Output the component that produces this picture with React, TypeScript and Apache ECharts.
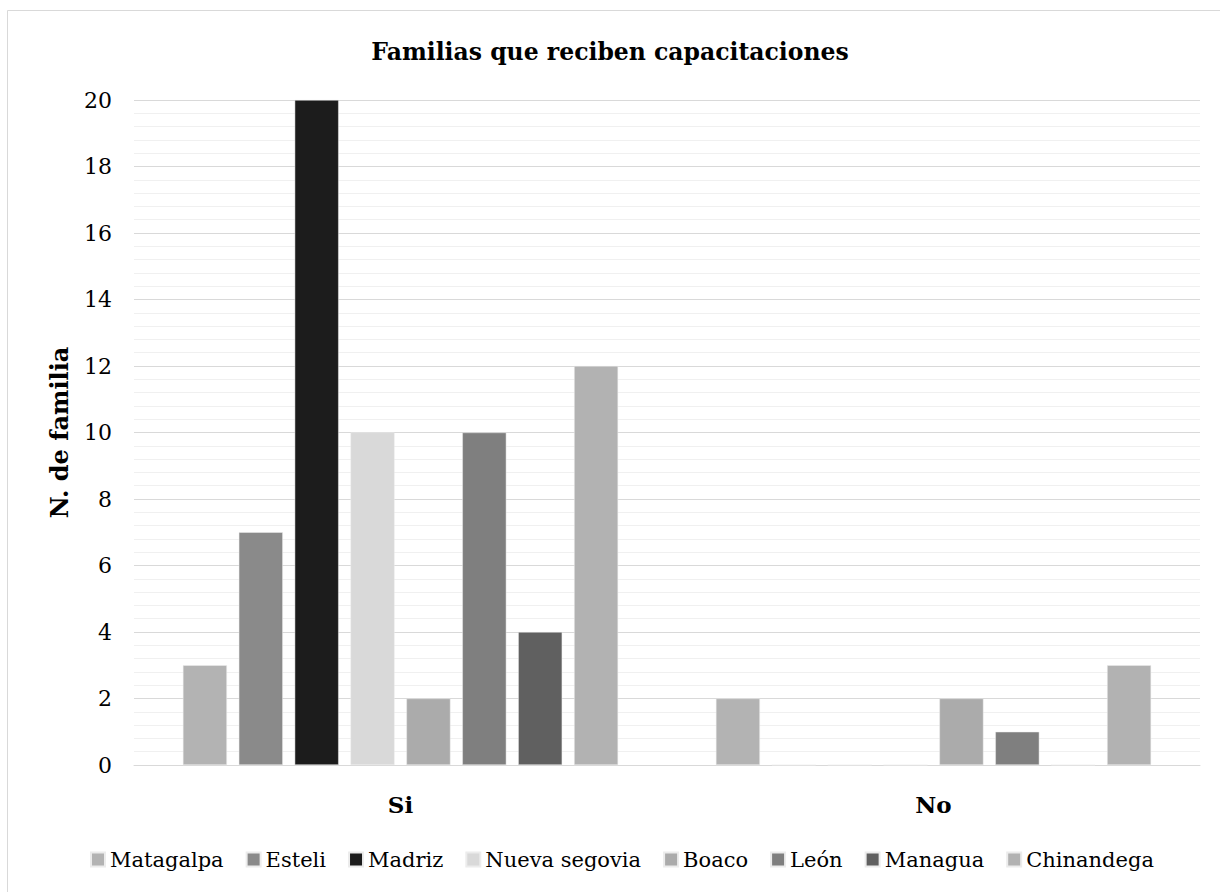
import React, { useEffect, useRef } from "react";
import * as echarts from "echarts";

const categories = ["Si", "No"];
const regions = ["Matagalpa", "Esteli", "Madriz", "Nueva segovia", "Boaco", "León", "Managua", "Chinandega"];
const matagalpa = [3, 2];
const esteli = [7, 0];
const madriz = [20, 0];
const nuevaSegovia = [10, 0];
const boaco = [2, 2];
const leon = [10, 1];
const managua = [4, 0];
const chinandega = [12, 3];
const seriesValues = [matagalpa, esteli, madriz, nuevaSegovia, boaco, leon, managua, chinandega];
const colors = ["#b3b3b3", "#8a8a8a", "#1c1c1c", "#d9d9d9", "#ababab", "#7f7f7f", "#606060", "#b2b2b2"];

const FONT = "DejaVu Serif";

export default function App() {
  const ref = useRef<HTMLDivElement>(null);
  useEffect(() => {
    if (!ref.current) return;
    const chart = echarts.init(ref.current, null, { renderer: "svg" });
    chart.setOption({
      animation: false,
      backgroundColor: "#ffffff",
      textStyle: { fontFamily: FONT },
      graphic: [
        {
          type: "rect",
          shape: { x: 7.5, y: 10.5, width: 1240, height: 900 },
          style: { fill: "none", stroke: "#d9d9d9", lineWidth: 1 },
          silent: true,
        },
      ],
      title: {
        text: "Familias que reciben capacitaciones",
        left: "center",
        top: 35,
        textStyle: { fontFamily: FONT, fontSize: 23.5, fontWeight: "bold", color: "#000" },
      },
      grid: { left: 134, right: 20, top: 100, bottom: 127 },
      legend: {
        left: 85,
        top: 844,
        icon: "rect",
        itemWidth: 14,
        itemHeight: 14,
        itemGap: 22,
        textStyle: { fontFamily: FONT, fontSize: 21, color: "#000" },
        data: regions,
      },
      xAxis: {
        type: "category",
        data: categories,
        axisLine: { show: true, lineStyle: { color: "#d9d9d9", width: 1 } },
        axisTick: { show: false },
        axisLabel: { fontFamily: FONT, fontSize: 23, fontWeight: "bold", color: "#000", margin: 28 },
      },
      yAxis: {
        type: "value",
        min: 0,
        max: 20,
        interval: 2,
        name: "N. de familia",
        nameLocation: "middle",
        nameRotate: 90,
        nameGap: 63,
        nameTextStyle: { fontFamily: FONT, fontSize: 24, fontWeight: "bold", color: "#000" },
        axisLine: { show: false },
        axisTick: { show: false },
        axisLabel: { fontFamily: FONT, fontSize: 22, color: "#000", margin: 22 },
        splitLine: { show: true, lineStyle: { color: "#d9d9d9", width: 1 } },
        minorTick: { show: false, splitNumber: 5 },
        minorSplitLine: { show: true, lineStyle: { color: "#f0f0f0", width: 1 } },
      },
      series: regions.map((name, i) => ({
        name,
        type: "bar",
        data: seriesValues[i],
        barWidth: 44,
        barGap: "27%",
        itemStyle: { color: colors[i], borderColor: "#ececec", borderWidth: 0.5 },
      })),
    });
    return () => chart.dispose();
  }, []);
  return (
    <div
      ref={ref}
      style={{ position: "fixed", left: 0, top: 0, width: 1220, height: 892 }}
    />
  );
}
